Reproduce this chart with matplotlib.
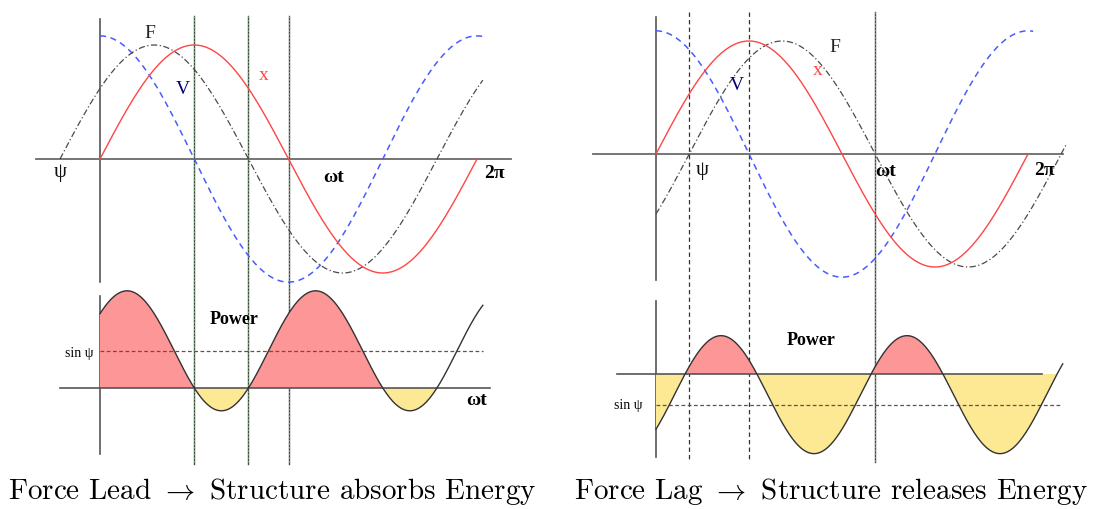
import numpy as np
import matplotlib
matplotlib.use('Agg')
import matplotlib.pyplot as plt

plt.rcParams['mathtext.fontset'] = 'cm'

W, H = 1094, 510
fig = plt.figure(figsize=(W / 100, H / 100), dpi=100)

TWO_PI = 2 * np.pi

# ---------------- data ----------------
PSI = [0.667, 0.56]            # phase angle of the force (rad)
PHASE_SIGN = [1, -1]           # +1 force leads, -1 force lags
AMP_X = [1.0, 1.0]             # displacement amplitude
AMP_V = [1.08, 1.09]           # velocity amplitude
AMP_F = [1.0, 1.0]             # force amplitude
X_RANGE = [(0.0, TWO_PI), (0.0, TWO_PI)]
V_RANGE = [(0.0, 6.38), (0.0, 6.37)]
F_RANGE = [(-0.667, 6.38), (0.0, 6.94)]
POWER_OFFSET = [0.31, -0.175]
POWER_AMP = [0.5, 0.5]
POWER_PHASE = [0.667, -0.625]
POWER_RANGE = [(0.0, 6.38), (0.0, 6.87)]
FILL_RANGE = [(0.0, TWO_PI - 0.667), (0.0, 6.80)]
SIN_PSI_LEVEL = [0.31, -0.263]
SIN_PSI_RANGE = [(0.0, 6.38), (0.0, 6.82)]
CAPTIONS = [r"Force Lead $\rightarrow$ Structure absorbs Energy",
            r"Force Lag $\rightarrow$ Structure releases Energy"]

# ---------------- layout (pixels) ----------------
SIDES = [
    dict(px_l=0, px_r=547, x0=100, sx=377 / TWO_PI,
         top=dict(y0=160, sy=114), bot=dict(y0=389, sy=120),
         top_axis=(36, 511), bot_axis=(60, 490),
         vtop=(20, 283), vbot=(297, 455),
         guides_green=[np.pi / 2, np.pi - PSI[0], np.pi], guides_dash=[],
         guide_span=(17, 465),
         lab=dict(F=(150, 33), V=(183, 89), x=(264, 75), psi=(60, 173),
                  wt=(334, 178), tp=(494, 174), power=(234, 320),
                  sinpsi=(79, 354), wt2=(477, 401)),
         cap=(272, 492)),
    dict(px_l=547, px_r=1094, x0=656, sx=372 / TWO_PI,
         top=dict(y0=155, sy=113), bot=dict(y0=375, sy=118),
         top_axis=(593, 1063), bot_axis=(617, 1042),
         vtop=(18, 281), vbot=(302, 458),
         guides_green=[np.pi + PSI[1]], guides_dash=[PSI[1], np.pi / 2],
         guide_span=(13, 463),
         lab=dict(F=(835, 47), V=(737, 86), x=(818, 71), psi=(702, 171),
                  wt=(886, 172), tp=(1044, 171), power=(811, 341),
                  sinpsi=(628, 406), wt2=None),
         cap=(831, 492)),
]


def make_ax(px_l, px_r, px_t, px_b, x0, sx, y0, sy):
    ax = fig.add_axes([px_l / W, 1 - px_b / H, (px_r - px_l) / W, (px_b - px_t) / H])
    ax.set_xlim((px_l - x0) / sx, (px_r - x0) / sx)
    ax.set_ylim((y0 - px_b) / sy, (y0 - px_t) / sy)
    ax.set_axis_off()
    return ax


def ftext(px, py, s, **kw):
    fig.text(px / W, 1 - py / H, s, ha='center', va='center', **kw)


SERIF = ['Liberation Serif', 'DejaVu Serif']
RED = '#ff4545'
BLUE = '#4a5cff'
GRAY = '#4a4a4a'

for i, S in enumerate(SIDES):
    x0, sx = S['x0'], S['sx']
    tx = lambda px: (px - x0) / sx
    # full-height axes for guides (y in pixels)
    axf = fig.add_axes([S['px_l'] / W, 0, (S['px_r'] - S['px_l']) / W, 1])
    axf.set_xlim(tx(S['px_l']), tx(S['px_r']))
    axf.set_ylim(H, 0)
    axf.set_axis_off()

    axt = make_ax(S['px_l'], S['px_r'], 0, 300, x0, sx, S['top']['y0'], S['top']['sy'])
    axb = make_ax(S['px_l'], S['px_r'], 285, 470, x0, sx, S['bot']['y0'], S['bot']['sy'])

    # axes lines
    axt.plot([tx(S['top_axis'][0]), tx(S['top_axis'][1])], [0, 0], color='#6a6a6a', lw=1.3, zorder=1)
    axb.plot([tx(S['bot_axis'][0]), tx(S['bot_axis'][1])], [0, 0], color='#555555', lw=1.2, zorder=3)
    axf.plot([0, 0], S['vtop'], color='#555555', lw=1.2)
    axf.plot([0, 0], S['vbot'], color='#555555', lw=1.2)

    # guide lines
    for g in S['guides_green']:
        axf.plot([g, g], S['guide_span'], color='#3d4a3d', lw=1.0, zorder=4)
        axf.plot([g, g], S['guide_span'], color='#8fd68f', lw=0.5, ls=(0, (2, 3)), zorder=5)
    for g in S['guides_dash']:
        axf.plot([g, g], S['guide_span'], color='#333333', lw=0.9, ls=(0, (3.5, 2.5)), zorder=4)

    psi = PSI[i]
    sg = PHASE_SIGN[i]
    # top panel curves
    th = np.linspace(*V_RANGE[i], 600)
    axt.plot(th, AMP_V[i] * np.cos(th), color=BLUE, lw=1.1, ls=(0, (4, 3)), zorder=3)
    th = np.linspace(*F_RANGE[i], 600)
    axt.plot(th, AMP_F[i] * np.sin(th + sg * psi), color=GRAY, lw=0.9,
             ls=(0, (5, 2, 1, 2)), zorder=3)
    th = np.linspace(*X_RANGE[i], 600)
    axt.plot(th, AMP_X[i] * np.sin(th), color=RED, lw=1.0, zorder=4)

    # power panel
    th = np.linspace(*POWER_RANGE[i], 800)
    P = POWER_OFFSET[i] + POWER_AMP[i] * np.sin(2 * th + POWER_PHASE[i])
    fr = (th >= FILL_RANGE[i][0]) & (th <= FILL_RANGE[i][1])
    axb.fill_between(th, 0, P, where=fr & (P >= 0), interpolate=True,
                     color='#fd9696', lw=0, zorder=1)
    axb.fill_between(th, 0, P, where=fr & (P <= 0), interpolate=True,
                     color='#fde994', lw=0, zorder=1)
    axb.plot(th, P, color='#333333', lw=1.0, zorder=4)
    axb.plot(SIN_PSI_RANGE[i], [SIN_PSI_LEVEL[i]] * 2,
             color='#8a4040' if i == 0 else '#555555', lw=0.9,
             ls=(0, (3, 2)), zorder=2)

    L = S['lab']
    ftext(*L['F'], 'F', family=SERIF, fontsize=14, color='#222222')
    ftext(*L['V'], 'V', family=SERIF, fontsize=14, color='#00007a')
    ftext(*L['x'], 'x', family=SERIF, fontsize=14, color=RED)
    ftext(*L['psi'], 'ψ', family=SERIF, fontsize=15, color='#111111')
    ftext(*L['wt'], 'ωt', family=SERIF, fontsize=14, weight='bold')
    ftext(*L['tp'], '2π', family=SERIF, fontsize=14, weight='bold')
    ftext(*L['power'], 'Power', family=SERIF, fontsize=13, weight='bold')
    ftext(*L['sinpsi'], 'sin ψ', family=SERIF, fontsize=10)
    if L['wt2'] is not None:
        ftext(*L['wt2'], 'ωt', family=SERIF, fontsize=14, weight='bold')

    ftext(*S['cap'], CAPTIONS[i], family='cmr10', fontsize=21)

fig.savefig('out.png', dpi=100)
